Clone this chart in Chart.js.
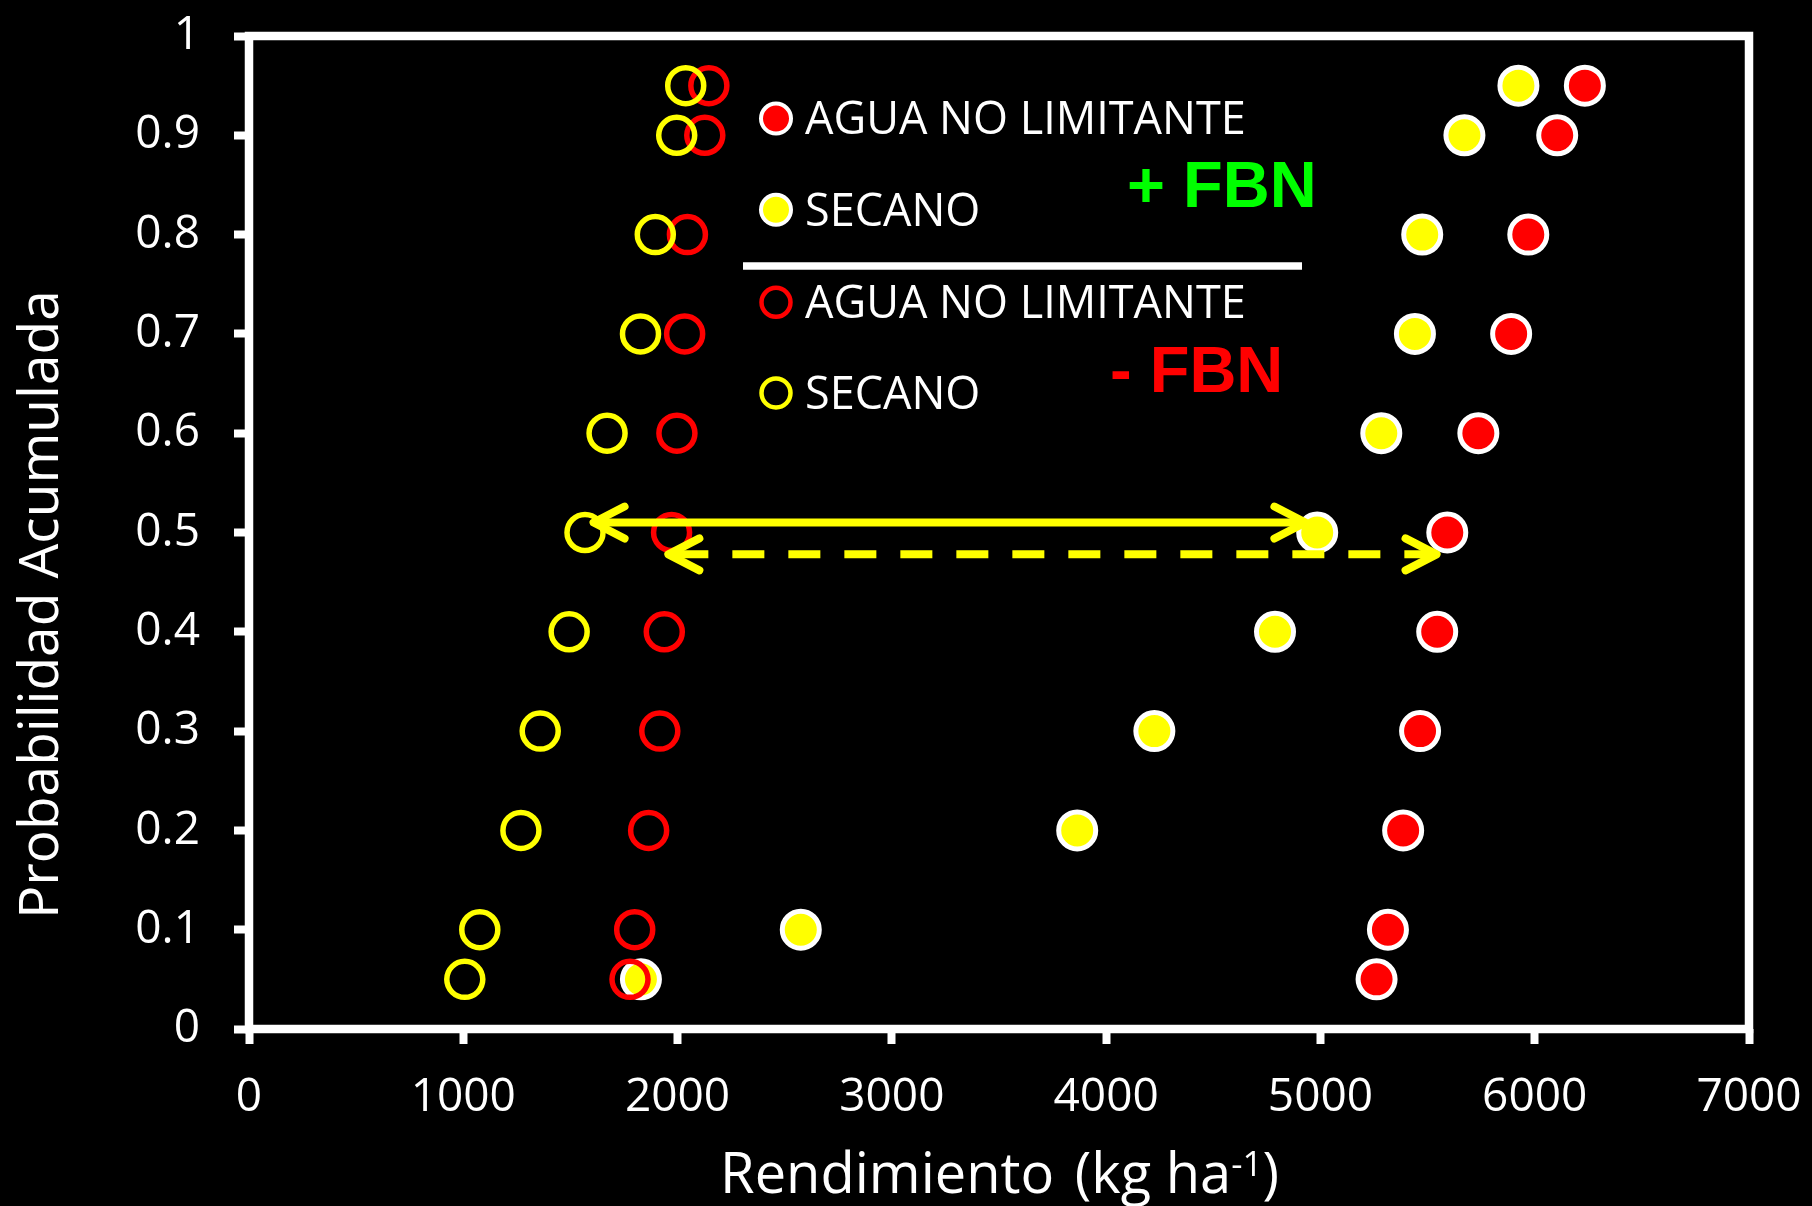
<!DOCTYPE html>
<html>
<head>
<meta charset="utf-8">
<script src="https://cdn.jsdelivr.net/npm/chart.js@4.4.1/dist/chart.umd.min.js"></script>
<style>
  html, body { margin: 0; padding: 0; background: #000; }
  #wrap { width: 1812px; height: 1206px; position: relative; }
</style>
</head>
<body>
<div id="wrap"><canvas id="chart"></canvas></div>
<script>
// probabilidad acumulada (eje y)
const probabilidad = [0.05, 0.1, 0.2, 0.3, 0.4, 0.5, 0.6, 0.7, 0.8, 0.9, 0.95];

// rendimientos (kg/ha)
const aguaConFBN   = [5262, 5315, 5386, 5465, 5545, 5592, 5737, 5890, 5970, 6105, 6234];
const secanoConFBN = [1829, 2575, 3865, 4225, 4788, 4985, 5284, 5441, 5475, 5672, 5924];
const aguaSinFBN   = [1778, 1800, 1865, 1917, 1938, 1972, 1997, 2033, 2046, 2127, 2146];
const secanoSinFBN = [1007, 1077, 1269, 1359, 1494, 1568, 1671, 1827, 1896, 1996, 2038];

const leyenda = ['AGUA NO LIMITANTE', 'SECANO', 'AGUA NO LIMITANTE', 'SECANO'];

// flechas (x en kg/ha, y en probabilidad)
const flechaContinuaX = [1608, 4930];
const flechaContinuaY = [0.51, 0.51];
const flechaDiscontX  = [1957, 5542];
const flechaDiscontY  = [0.478, 0.478];

const xMin = 0, xMax = 7000, xStep = 1000;
const yMin = 0, yMax = 1, yStep = 0.1;

const toPts = (xs, ys) => xs.map((x, i) => ({ x: x, y: ys[i] }));

const WHITE = '#ffffff', RED = '#ff0000', YELLOW = '#ffff00';

const framePlugin = {
  id: 'frame',
  beforeDatasetsDraw(chart) {
    const { ctx, chartArea: a } = chart;
    ctx.save();
    ctx.strokeStyle = WHITE;
    ctx.lineWidth = 8.5;
    ctx.strokeRect(a.left, a.top, a.right - a.left, a.bottom - a.top);
    ctx.restore();
  }
};

// puntas de flecha abiertas en los extremos de las lineas
const arrowPlugin = {
  id: 'arrows',
  afterDatasetsDraw(chart) {
    const { ctx, scales } = chart;
    const heads = [[flechaContinuaX, flechaContinuaY], [flechaDiscontX, flechaDiscontY]];
    ctx.save();
    ctx.strokeStyle = YELLOW;
    ctx.lineWidth = 8;
    ctx.lineCap = 'round';
    ctx.lineJoin = 'round';
    heads.forEach(([xs, ys]) => {
      const x0 = scales.x.getPixelForValue(xs[0]), x1 = scales.x.getPixelForValue(xs[1]);
      const y0 = scales.y.getPixelForValue(ys[0]), y1 = scales.y.getPixelForValue(ys[1]);
      [[x0, y0, 1], [x1, y1, -1]].forEach(([px, py, dir]) => {
        ctx.beginPath();
        ctx.moveTo(px + dir * 31, py - 16);
        ctx.lineTo(px, py);
        ctx.lineTo(px + dir * 31, py + 16);
        ctx.stroke();
      });
    });
    ctx.restore();
  }
};

const legendPlugin = {
  id: 'customLegend',
  afterDraw(chart) {
    const ctx = chart.ctx;
    const mx = 776, tx = 805;
    const rows = [118.6, 209.7, 302.3, 393];
    ctx.save();
    rows.forEach((cy, i) => {
      ctx.beginPath();
      ctx.arc(mx, cy, i < 2 ? 15 : 14.5, 0, Math.PI * 2);
      if (i < 2) {
        ctx.fillStyle = i === 0 ? RED : YELLOW;
        ctx.fill();
        ctx.strokeStyle = WHITE;
        ctx.lineWidth = 4;
      } else {
        ctx.strokeStyle = i === 2 ? RED : YELLOW;
        ctx.lineWidth = 4.5;
      }
      ctx.stroke();
      ctx.fillStyle = WHITE;
      ctx.font = '45px "Open Sans"';
      ctx.textAlign = 'left';
      ctx.textBaseline = 'alphabetic';
      ctx.fillText(leyenda[i], tx, cy + 15.8);
    });
    // separador
    ctx.beginPath();
    ctx.moveTo(743, 266);
    ctx.lineTo(1302, 266);
    ctx.strokeStyle = WHITE;
    ctx.lineWidth = 7.5;
    ctx.stroke();

    ctx.font = 'bold 65px "Liberation Sans", Arial, sans-serif';
    ctx.fillStyle = '#00ff00';
    ctx.fillText('+ FBN', 1127, 206.7);
    ctx.fillStyle = RED;
    ctx.fillText('- FBN', 1110, 392.3);
    ctx.restore();
  }
};

const axisTitlePlugin = {
  id: 'axisTitles',
  afterDraw(chart) {
    const ctx = chart.ctx;
    ctx.save();
    ctx.fillStyle = WHITE;
    // eje y
    ctx.translate(58, 604.5);
    ctx.rotate(-Math.PI / 2);
    ctx.font = '55px "Open Sans"';
    ctx.textAlign = 'center';
    ctx.textBaseline = 'alphabetic';
    ctx.fillText('Probabilidad Acumulada', 0, 0);
    ctx.restore();

    // eje x con superindice
    ctx.save();
    ctx.fillStyle = WHITE;
    ctx.textBaseline = 'alphabetic';
    ctx.textAlign = 'left';
    const main = '56px "Open Sans"', sup = '35px "Open Sans"';
    const p1 = 'Rendimiento', p2 = ' (kg ha', s = '-1', b = ')';
    const gap = 6;
    ctx.font = main;
    const w1 = ctx.measureText(p1).width, w2 = ctx.measureText(p2).width, wb = ctx.measureText(b).width;
    ctx.font = sup; const ws = ctx.measureText(s).width;
    let x = 999.5 - (w1 + gap + w2 + ws + wb) / 2;
    const base = 1193;
    ctx.font = main; ctx.fillText(p1, x, base); x += w1 + gap;
    ctx.fillText(p2, x, base); x += w2;
    ctx.font = sup; ctx.fillText(s, x, base - 17); x += ws;
    ctx.font = main; ctx.fillText(b, x, base);
    ctx.restore();
  }
};

const ringStyle = (color) => ({
  backgroundColor: 'rgba(0,0,0,0)', borderColor: color, pointRadius: 18, borderWidth: 5.5
});
const dotStyle = (color) => ({
  backgroundColor: color, borderColor: WHITE, pointRadius: 18.5, borderWidth: 5
});

const noPad = (s) => { s.paddingLeft = 0; s.paddingRight = 0; s.paddingTop = 0; s.paddingBottom = 0; };

new Chart(document.getElementById('chart'), {
  type: 'scatter',
  data: {
    datasets: [
      { label: 'flecha', type: 'line', data: toPts(flechaContinuaX, flechaContinuaY),
        borderColor: YELLOW, borderWidth: 8, pointRadius: 0, showLine: true, order: 0 },
      { label: 'flecha discontinua', type: 'line', data: toPts(flechaDiscontX, flechaDiscontY),
        borderColor: YELLOW, borderWidth: 8, pointRadius: 0, showLine: true,
        borderDash: [32, 24], borderDashOffset: -8, order: 0 },
      Object.assign({ label: 'SECANO - FBN', data: toPts(secanoSinFBN, probabilidad), order: 1 }, ringStyle(YELLOW)),
      Object.assign({ label: 'AGUA NO LIMITANTE - FBN', data: toPts(aguaSinFBN, probabilidad), order: 2 }, ringStyle(RED)),
      Object.assign({ label: 'SECANO + FBN', data: toPts(secanoConFBN, probabilidad), order: 3 }, dotStyle(YELLOW)),
      Object.assign({ label: 'AGUA NO LIMITANTE + FBN', data: toPts(aguaConFBN, probabilidad), order: 4 }, dotStyle(RED))
    ]
  },
  options: {
    responsive: true,
    maintainAspectRatio: false,
    animation: false,
    events: [],
    layout: { padding: { top: 36, right: 63, left: 0, bottom: 0 } },
    plugins: { legend: { display: false }, tooltip: { enabled: false } },
    scales: {
      x: {
        type: 'linear', min: xMin, max: xMax,
        afterFit: (s) => { s.height = 177; noPad(s); },
        border: { display: false },
        grid: { drawOnChartArea: false, drawTicks: true, tickLength: 15, tickWidth: 8, tickColor: WHITE },
        ticks: { stepSize: xStep, color: WHITE, padding: 26, font: { family: 'Open Sans', size: 46 },
                 maxRotation: 0, callback: (v) => String(v) }
      },
      y: {
        type: 'linear', min: yMin, max: yMax,
        afterFit: (s) => { s.width = 249; noPad(s); },
        border: { display: false },
        grid: { drawOnChartArea: false, drawTicks: true, tickLength: 15, tickWidth: 8, tickColor: WHITE },
        ticks: { stepSize: yStep, color: WHITE, padding: 34, font: { family: 'Open Sans', size: 46 },
                 callback: (v) => String(Math.round(v * 10) / 10) }
      }
    }
  },
  plugins: [framePlugin, arrowPlugin, legendPlugin, axisTitlePlugin]
});
</script>
</body>
</html>
